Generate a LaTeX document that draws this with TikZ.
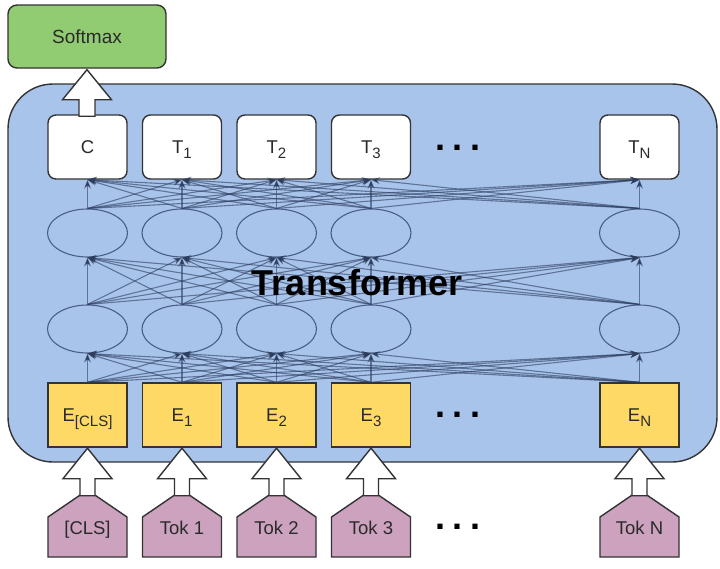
\documentclass[tikz,border=0pt]{standalone}
\usepackage{fontspec}
\setmainfont{Liberation Sans}
\usetikzlibrary{arrows.meta,calc,shapes.geometric}
\definecolor{bluebg}{HTML}{A9C4EB}
\definecolor{smgreen}{HTML}{92CC72}
\definecolor{eyellow}{HTML}{FFD966}
\definecolor{tokpink}{HTML}{CDA2BE}
\definecolor{edgec}{HTML}{333333}
\definecolor{txtc}{HTML}{2A2A2A}
\definecolor{connc}{HTML}{2C3D5E}
\definecolor{ellc}{HTML}{4A5F85}
\newcommand\subtxt[1]{\raisebox{-4.5pt}{\fontsize{15}{15}\selectfont #1}}
\tikzset{
  sbox/.style={draw=edgec,line width=1.4pt,minimum width=79pt,minimum height=64pt,inner sep=0pt,
    text height=13.2pt,text depth=0pt,font=\fontsize{18.5}{18.5}\selectfont,text=txtc},
  tbox/.style={sbox,fill=white,rounded corners=8pt},
  ebox/.style={sbox,fill=eyellow},
  ell/.style={draw=ellc,line width=1.1pt,ellipse,minimum width=80pt,minimum height=48pt,inner sep=0pt},
  conn/.style={draw=connc,draw opacity=0.6,line width=1.1pt,-{Stealth[length=9pt,width=7pt]}},
  blockarrow/.style={draw=edgec,fill=white,line width=1.4pt,line join=miter},
  tokshape/.style={draw=edgec,fill=tokpink,line width=1.4pt},
  toklabel/.style={anchor=base,font=\fontsize{18.5}{18.5}\selectfont,text=txtc,inner sep=0pt},
  dotsl/.style={font=\fontsize{36}{36}\selectfont\bfseries,inner sep=0pt,text=black},
}
\newcommand\mydots{.\hspace{7.5pt}.\hspace{7.5pt}.}
\begin{document}
\begin{tikzpicture}[x=1pt,y=-1pt]
\useasboundingbox (0,0) rectangle (720,568);
\fill[white] (0,0) rectangle (720,568);
% transformer container
\draw[fill=bluebg,draw=edgec,line width=1.4pt,rounded corners=45pt] (8,84) rectangle (717,462);
% softmax
\node[draw=edgec,fill=smgreen,line width=1.4pt,rounded corners=9pt,minimum width=158pt,minimum height=63pt,
  inner sep=0pt,text height=13.6pt,text depth=0pt,font=\fontsize{19}{19}\selectfont,text=txtc] (sm) at (87,36.5) {Softmax};
% columns
\foreach \i/\x/\tl/\el/\kl in {0/87.5/{C}/{E\subtxt{[CLS]}}/{[CLS]},
                               1/182/{T\subtxt{1}}/{E\subtxt{1}}/{Tok 1},
                               2/276.5/{T\subtxt{2}}/{E\subtxt{2}}/{Tok 2},
                               3/371/{T\subtxt{3}}/{E\subtxt{3}}/{Tok 3},
                               4/639.5/{T\subtxt{N}}/{E\subtxt{N}}/{Tok N}}{
  \node[tbox] (t\i) at (\x,147) {\tl};
  \node[ell] (a\i) at (\x,233) {};
  \node[ell] (b\i) at (\x,329) {};
  \node[ebox] (e\i) at (\x,415) {\el};
  \draw[tokshape] (\x-39.5,557) -- (\x-39.5,517) -- (\x,490) -- (\x+39.5,517) -- (\x+39.5,557) -- cycle;
  \node[toklabel] (k\i) at (\x,534) {\kl};
  \draw[blockarrow] ($(e\i.south)+(0,0.5)$) -- ++(24.5,30.5) -- ++(-17,0) -- ++(0,17) -- ++(-15,0)
     -- ++(0,-17) -- ++(-17,0) -- cycle;
}
% connectors
\foreach \i in {0,...,4}{
  \foreach \j in {0,...,4}{
    \draw[conn] (e\i.north) -- (b\j.south);
    \draw[conn] (b\i.north) -- (a\j.south);
    \draw[conn] (a\i.north) -- (t\j.south);
  }
}
% softmax arrow
\draw[blockarrow] ($(sm.south)+(0,1)$) -- ++(24.5,30) -- ++(-16.5,0) -- ++(0,16.5) -- ++(-16,0)
   -- ++(0,-16.5) -- ++(-16.5,0) -- cycle;
% dots
\node[dotsl] (d1) at (458,148) {\mydots};
\node[dotsl] (d2) at (458,415) {\mydots};
\node[dotsl] (d3) at (458,527) {\mydots};
% label
\node[anchor=base,inner sep=0pt,font=\fontsize{36}{36}\selectfont\bfseries,text=black] (tf) at (357,295) {Transformer};
\end{tikzpicture}
\end{document}
